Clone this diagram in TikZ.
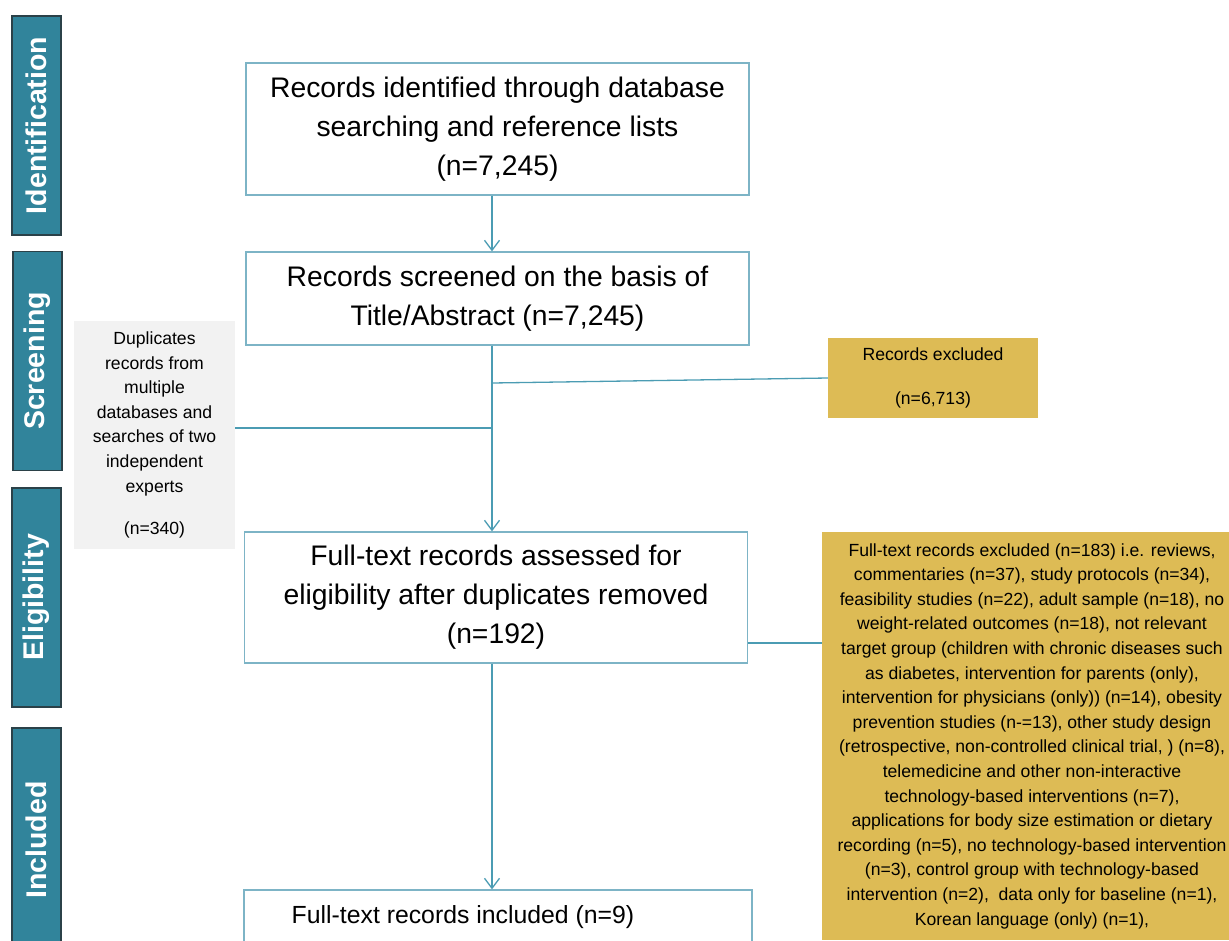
\documentclass[tikz,border=0pt]{standalone}
\usepackage{fontspec}
\setmainfont{Liberation Sans}
\usetikzlibrary{arrows.meta,positioning}
\definecolor{stageteal}{HTML}{31849B}
\definecolor{stageedge}{HTML}{2B4148}
\definecolor{boxedge}{HTML}{7DB4C6}
\definecolor{lineteal}{HTML}{4B9CB3}
\definecolor{exclgold}{HTML}{DDBB55}
\definecolor{dupgray}{HTML}{F2F2F2}
\begin{document}
\begin{tikzpicture}[x=1pt,y=-1pt,
    stage/.style={draw=stageedge, line width=1.2pt, fill=stageteal, text=white,
      font=\fontsize{28.5}{34}\selectfont\bfseries, rotate=90,
      minimum width=219pt, minimum height=49pt, inner sep=0pt},
    flowbox/.style={draw=boxedge, line width=1.3pt, fill=white, align=center,
      font=\fontsize{28.3}{39}\selectfont, minimum width=503pt, inner sep=0pt},
    sidebox/.style={align=center, font=\fontsize{17.6}{24.6}\selectfont, inner sep=0pt},
    flow/.style={draw=lineteal, line width=1.3pt},
    arr/.style={flow, -{Straight Barb[length=10pt,width=15pt]}}]
  \useasboundingbox (0,0) rectangle (1229,940);
  \begin{scope}
    \clip (0,0) rectangle (1229,940);
    % Stage bars
    \node[stage] (ident) at (36.5,125.5) {Identification};
    \node[stage] (screen) at (37.5,361) {Screening};
    \node[stage] (elig) at (36.5,597.5) {Eligibility};
    \node[stage, minimum width=224pt] (incl) at (36.5,840) {Included};

    % Main flow
    \node[flowbox, minimum height=132pt] (ident box) at (497.5,129)
      {Records identified through database\\ searching and reference lists\\ (n=7,245)};
    \node[flowbox, minimum height=93pt] (screen box) at (497.5,298.5)
      {Records screened on the basis of\\ Title/Abstract (n=7,245)};
    \node[flowbox, minimum height=131pt] (elig box) at (496,597.5)
      {Full-text records assessed for\\ eligibility after duplicates removed\\ (n=192)};
    \node[flowbox, minimum width=508pt, minimum height=54pt,
      font=\fontsize{24.8}{30}\selectfont] (incl box) at (498,917)
      {\hspace*{-70pt}Full-text records included (n=9)};

    % Side boxes
    \node[sidebox, fill=dupgray, minimum width=161pt, minimum height=228pt] (dup box) at (154.5,435)
      {Duplicates\\ records from\\ multiple\\ databases and\\ searches of two\\ independent\\ experts\\[18pt] (n=340)};
    \node[sidebox, fill=exclgold, minimum width=210pt, minimum height=80pt] (excl box) at (933,378)
      {Records excluded\\[19pt] (n=6,713)};
    \node[sidebox, fill=exclgold, minimum width=420pt, minimum height=408pt] (ft excl) at (1032,736)
      {Full-text records excluded (n=183) i.e. reviews,\\
       commentaries (n=37), study protocols (n=34),\\
       feasibility studies (n=22), adult sample (n=18), no\\
       weight-related outcomes (n=18), not relevant\\
       target group (children with chronic diseases such\\
       as diabetes, intervention for parents (only),\\
       intervention for physicians (only)) (n=14), obesity\\
       prevention studies (n-=13), other study design\\
       (retrospective, non-controlled clinical trial, ) (n=8),\\
       telemedicine and other non-interactive\\
       technology-based interventions (n=7),\\
       applications for body size estimation or dietary\\
       recording (n=5), no technology-based intervention\\
       (n=3), control group with technology-based\\
       intervention (n=2),~ data only for baseline (n=1),\\
       Korean language (only) (n=1),};

    % Connectors
    \coordinate (spine) at (492,0);
    \draw[arr] (ident box.south -| spine) -- (screen box.north -| spine);
    \draw[arr] (screen box.south -| spine) -- (elig box.north -| spine);
    \draw[arr] (elig box.south -| spine) -- (incl box.north -| spine);
    \draw[flow] (excl box.west) -- ([yshift=-5pt]excl box.west -| spine);
    \draw[flow] ([yshift=7pt]dup box.east) -- ([yshift=7pt]dup box.east -| spine);
    \draw[flow] ([yshift=93pt]ft excl.west) -- ([yshift=93pt]ft excl.west -| elig box.east);
  \end{scope}
\end{tikzpicture}
\end{document}
